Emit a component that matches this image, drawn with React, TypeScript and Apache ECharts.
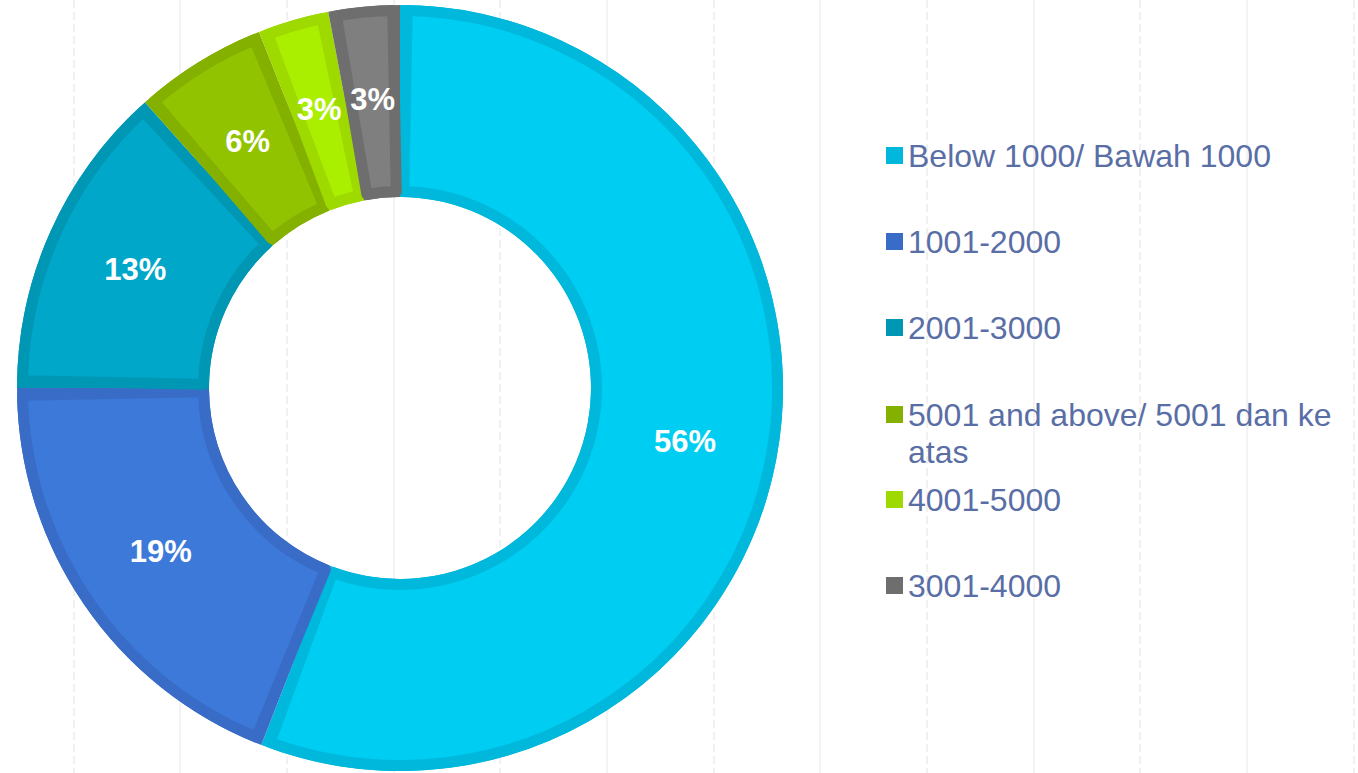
import React, { useEffect, useRef } from "react";
import * as echarts from "echarts";

const categories = [
  "Below 1000/ Bawah 1000",
  "1001-2000",
  "2001-3000",
  "5001 and above/ 5001 dan ke atas",
  "4001-5000",
  "3001-4000",
];
const values = [55.9, 19.1, 13.4, 5.6, 3.0, 3.0];
const fillColors = ["#00CDF2", "#3D79D9", "#00A7C9", "#91C300", "#AAEE00", "#7F7F7F"];
const borderColors = ["#00B8DB", "#386CC7", "#0097B5", "#84B000", "#9ED900", "#6E6E6E"];

const FONT = "'Liberation Sans', Arial, sans-serif";

export default function App() {
  const ref = useRef<HTMLDivElement>(null);
  useEffect(() => {
    if (!ref.current) return;
    const chart = echarts.init(ref.current, null, { renderer: "svg" });

    const legends = categories.map((name, i) => {
      const wrapped = i === 3;
      const pos: any = wrapped ? { bottom: 303 } : { top: 137 + 86 * i };
      return {
        data: [name],
        orient: "vertical",
        left: 886,
        ...pos,
        padding: 0,
        itemWidth: 17,
        itemHeight: 17,
        icon: "rect",
        selectedMode: false,
        formatter: wrapped
          ? (n: string) => "\n" + n.replace(" ke atas", " ke\natas")
          : (n: string) => n,
        textStyle: {
          fontFamily: FONT,
          fontSize: 32,
          color: "#5A6EA6",
          lineHeight: 37,
        },
      };
    });

    const axisHidden = {
      axisLine: { show: false },
      axisTick: { show: false },
      axisLabel: { show: false },
    };

    chart.setOption({
      animation: false,
      backgroundColor: "#ffffff",
      grid: [
        { left: 73.33, right: 4.67, top: 0, bottom: 0 },
        { left: 180, right: 111.33, top: 0, bottom: 0 },
      ],
      xAxis: [
        {
          type: "value",
          gridIndex: 0,
          min: 0,
          max: 12,
          interval: 2,
          ...axisHidden,
          splitLine: { show: true, lineStyle: { color: "#EDEDED", width: 1.5, type: [8, 4] } },
        },
        {
          type: "value",
          gridIndex: 1,
          min: 0,
          max: 10,
          interval: 2,
          ...axisHidden,
          splitLine: { show: true, lineStyle: { color: "#EFEFEF", width: 1.5, type: "solid" } },
        },
      ],
      yAxis: [
        { type: "value", gridIndex: 0, show: false },
        { type: "value", gridIndex: 1, show: false },
      ],
      legend: legends,
      series: [
        {
          type: "pie",
          name: "base",
          center: [400, 388],
          radius: [191, 383],
          silent: true,
          label: { show: false },
          labelLine: { show: false },
          itemStyle: { borderWidth: 0 },
          data: categories.map((name, i) => ({
            name,
            value: values[i],
            itemStyle: { color: borderColors[i] },
          })),
        },
        {
          type: "pie",
          name: "fill",
          center: [400, 388],
          radius: [196.5, 377.5],
          padAngle: 2.2,
          silent: true,
          labelLine: { show: false },
          label: {
            show: true,
            position: "inside",
            fontFamily: FONT,
            fontSize: 31,
            fontWeight: "bold",
            color: "#ffffff",
            formatter: (p: any) => Math.round(p.percent) + "%",
          },
          data: categories.map((name, i) => ({
            name,
            value: values[i],
            itemStyle: {
              color: fillColors[i],
              borderColor: borderColors[i],
              borderWidth: 11,
            },
          })),
        },
      ],
    });
    return () => chart.dispose();
  }, []);

  return (
    <div
      ref={ref}
      style={{ position: "fixed", left: 0, top: 0, width: 1358, height: 773 }}
    />
  );
}
